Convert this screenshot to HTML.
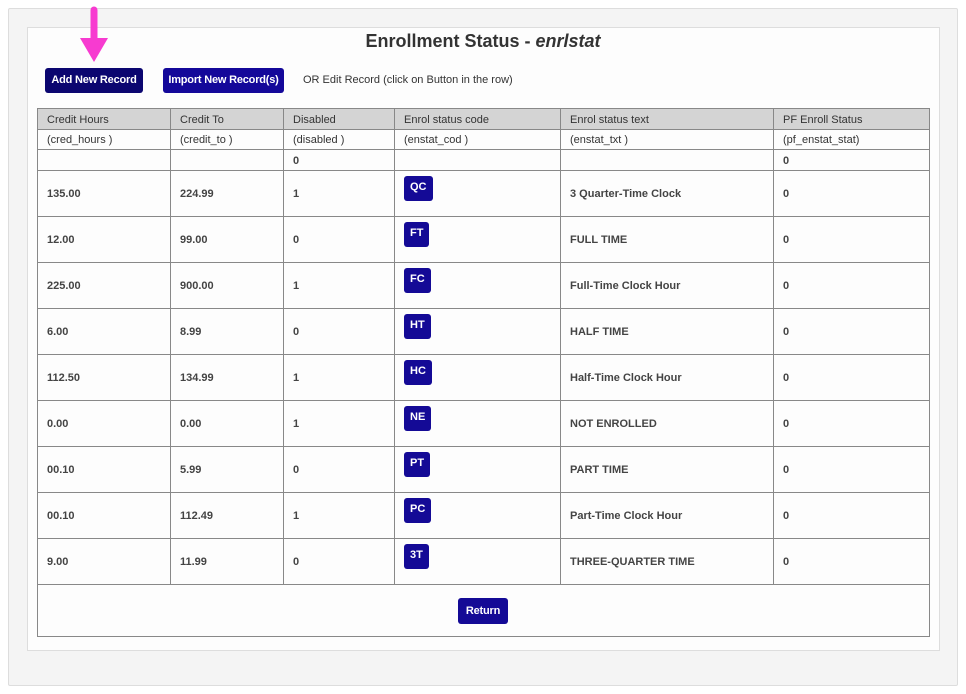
<!DOCTYPE html>
<html><head><meta charset="utf-8"><style>
*{margin:0;padding:0;box-sizing:border-box}
body{width:966px;height:694px;background:#fff;font-family:"Liberation Sans",Arial,sans-serif;position:relative;overflow:hidden;color:#333}
.outer{position:absolute;left:8px;top:8px;width:950px;height:678px;background:#f4f4f4;border:1px solid #ddd;border-radius:2px}
.inner{position:absolute;left:27px;top:27px;width:913px;height:624px;background:#fdfdfd;border:1px solid #ddd}
.title{position:absolute;left:0;width:966px;top:31px;text-align:center;font-size:18px;font-weight:bold;color:#333}
.btn{position:absolute;color:#fff;font-size:11px;font-weight:bold;text-align:center;border-radius:3px;letter-spacing:-0.2px}
table{position:absolute;left:37px;top:108px;border-collapse:collapse;table-layout:fixed;font-size:11px}
td{border:1px solid #888;padding:1px 0 0 9px;vertical-align:middle;white-space:nowrap}
tr.h td{background:#d4d4d4;height:21px}
tr.s td{height:20px}
tr.z td{height:21px;font-weight:bold;color:#444}
tr.d td{height:46px;font-weight:bold;color:#444}
td.c{vertical-align:top;padding-top:5px}
.cb{display:inline-block;background:#140a96;color:#fff;border-radius:3px;height:25px;line-height:22px;padding:0 6px;font-size:11px;font-weight:bold}
</style></head><body>
<div class="outer"></div>
<div class="inner"></div>
<div class="title">Enrollment Status - <i>enrlstat</i></div>
<svg style="position:absolute;left:78px;top:6px" width="32" height="58"><line x1="16" y1="4" x2="16" y2="34" stroke="#f73bd0" stroke-width="7" stroke-linecap="round"/><polygon points="2,32 30,32 16,56" fill="#f73bd0"/></svg>
<div class="btn" style="left:45px;top:68px;width:98px;height:25px;line-height:25px;background:#0b0670">Add New Record</div>
<div class="btn" style="left:163px;top:68px;width:121px;height:25px;line-height:25px;background:#14089a">Import New Record(s)</div>
<div style="position:absolute;left:303px;top:74px;font-size:11px;color:#333">OR Edit Record (click on Button in the row)</div>
<table>
<colgroup><col style="width:133px"><col style="width:113px"><col style="width:111px"><col style="width:166px"><col style="width:213px"><col style="width:156px"></colgroup>
<tr class="h"><td>Credit Hours</td><td>Credit To</td><td>Disabled</td><td>Enrol status code</td><td>Enrol status text</td><td>PF Enroll Status</td></tr>
<tr class="s"><td>(cred_hours )</td><td>(credit_to )</td><td>(disabled )</td><td>(enstat_cod )</td><td>(enstat_txt )</td><td>(pf_enstat_stat)</td></tr>
<tr class="z"><td></td><td></td><td>0</td><td></td><td></td><td>0</td></tr>
<tr class="d"><td>135.00</td><td>224.99</td><td>1</td><td class="c"><span class="cb">QC</span></td><td>3 Quarter-Time Clock</td><td>0</td></tr>
<tr class="d"><td>12.00</td><td>99.00</td><td>0</td><td class="c"><span class="cb">FT</span></td><td>FULL TIME</td><td>0</td></tr>
<tr class="d"><td>225.00</td><td>900.00</td><td>1</td><td class="c"><span class="cb">FC</span></td><td>Full-Time Clock Hour</td><td>0</td></tr>
<tr class="d"><td>6.00</td><td>8.99</td><td>0</td><td class="c"><span class="cb">HT</span></td><td>HALF TIME</td><td>0</td></tr>
<tr class="d"><td>112.50</td><td>134.99</td><td>1</td><td class="c"><span class="cb">HC</span></td><td>Half-Time Clock Hour</td><td>0</td></tr>
<tr class="d"><td>0.00</td><td>0.00</td><td>1</td><td class="c"><span class="cb">NE</span></td><td>NOT ENROLLED</td><td>0</td></tr>
<tr class="d"><td>00.10</td><td>5.99</td><td>0</td><td class="c"><span class="cb">PT</span></td><td>PART TIME</td><td>0</td></tr>
<tr class="d"><td>00.10</td><td>112.49</td><td>1</td><td class="c"><span class="cb">PC</span></td><td>Part-Time Clock Hour</td><td>0</td></tr>
<tr class="d"><td>9.00</td><td>11.99</td><td>0</td><td class="c"><span class="cb">3T</span></td><td>THREE-QUARTER TIME</td><td>0</td></tr>
<tr><td colspan="6" style="height:52px"></td></tr>
</table>
<div class="btn" style="left:458px;top:598px;width:50px;height:26px;line-height:26px;background:#140a96">Return</div>
</body></html>
